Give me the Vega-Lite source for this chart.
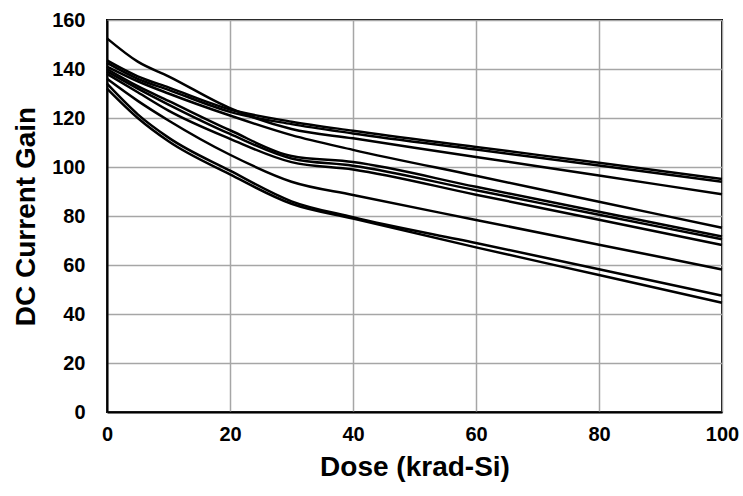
{
  "$schema": "https://vega.github.io/schema/vega-lite/v6.json",
  "width": 615,
  "height": 392,
  "autosize": {"type": "none"},
  "padding": {"left": 107, "top": 20, "right": 21, "bottom": 84},
  "background": "white",
  "config": {
    "view": {"stroke": "black", "strokeWidth": 2},
    "font": "Liberation Sans",
    "axis": {
      "labelFont": "Liberation Sans",
      "titleFont": "Liberation Sans",
      "labelFontWeight": "bold",
      "titleFontWeight": "bold",
      "labelColor": "black",
      "titleColor": "black",
      "labelFontSize": 20,
      "titleFontSize": 28,
      "gridColor": "#a6a6a6",
      "gridWidth": 1.5,
      "gridOpacity": 1,
      "domainColor": "black",
      "domainWidth": 2,
      "ticks": false
    }
  },
  "data": {
    "values": [
      {"s": "A", "dose": 0, "gain": 152.5}, {"s": "A", "dose": 5, "gain": 143}, {"s": "A", "dose": 10, "gain": 137}, {"s": "A", "dose": 20, "gain": 124}, {"s": "A", "dose": 30, "gain": 115.5}, {"s": "A", "dose": 40, "gain": 111.7}, {"s": "A", "dose": 60, "gain": 104.1}, {"s": "A", "dose": 80, "gain": 96.5}, {"s": "A", "dose": 100, "gain": 88.9},
      {"s": "B", "dose": 0, "gain": 143.5}, {"s": "B", "dose": 5, "gain": 137}, {"s": "B", "dose": 10, "gain": 132.5}, {"s": "B", "dose": 20, "gain": 123.5}, {"s": "B", "dose": 30, "gain": 118.5}, {"s": "B", "dose": 40, "gain": 114.8}, {"s": "B", "dose": 60, "gain": 108.2}, {"s": "B", "dose": 80, "gain": 101.7}, {"s": "B", "dose": 100, "gain": 95.1},
      {"s": "C", "dose": 0, "gain": 142.5}, {"s": "C", "dose": 5, "gain": 136}, {"s": "C", "dose": 10, "gain": 131.5}, {"s": "C", "dose": 20, "gain": 122.5}, {"s": "C", "dose": 30, "gain": 117.5}, {"s": "C", "dose": 40, "gain": 113.7}, {"s": "C", "dose": 60, "gain": 107.1}, {"s": "C", "dose": 80, "gain": 100.6}, {"s": "C", "dose": 100, "gain": 94.0},
      {"s": "D", "dose": 0, "gain": 141}, {"s": "D", "dose": 5, "gain": 135}, {"s": "D", "dose": 10, "gain": 130}, {"s": "D", "dose": 20, "gain": 121}, {"s": "D", "dose": 30, "gain": 113}, {"s": "D", "dose": 40, "gain": 107}, {"s": "D", "dose": 60, "gain": 96.4}, {"s": "D", "dose": 80, "gain": 85.8}, {"s": "D", "dose": 100, "gain": 75.2},
      {"s": "E", "dose": 0, "gain": 140}, {"s": "E", "dose": 5, "gain": 133}, {"s": "E", "dose": 10, "gain": 127}, {"s": "E", "dose": 20, "gain": 115}, {"s": "E", "dose": 30, "gain": 104.5}, {"s": "E", "dose": 40, "gain": 102}, {"s": "E", "dose": 60, "gain": 91.9}, {"s": "E", "dose": 80, "gain": 81.7}, {"s": "E", "dose": 100, "gain": 71.6},
      {"s": "F", "dose": 0, "gain": 139}, {"s": "F", "dose": 5, "gain": 132}, {"s": "F", "dose": 10, "gain": 125.5}, {"s": "F", "dose": 20, "gain": 113.5}, {"s": "F", "dose": 30, "gain": 103.5}, {"s": "F", "dose": 40, "gain": 100.5}, {"s": "F", "dose": 60, "gain": 90.5}, {"s": "F", "dose": 80, "gain": 80.5}, {"s": "F", "dose": 100, "gain": 70.5},
      {"s": "H", "dose": 0, "gain": 138}, {"s": "H", "dose": 5, "gain": 130.5}, {"s": "H", "dose": 10, "gain": 123}, {"s": "H", "dose": 20, "gain": 111.5}, {"s": "H", "dose": 30, "gain": 102}, {"s": "H", "dose": 40, "gain": 99}, {"s": "H", "dose": 60, "gain": 88.7}, {"s": "H", "dose": 80, "gain": 78.5}, {"s": "H", "dose": 100, "gain": 68.2},
      {"s": "G", "dose": 0, "gain": 136}, {"s": "G", "dose": 5, "gain": 127}, {"s": "G", "dose": 10, "gain": 119}, {"s": "G", "dose": 20, "gain": 105}, {"s": "G", "dose": 30, "gain": 94}, {"s": "G", "dose": 40, "gain": 88.6}, {"s": "G", "dose": 60, "gain": 78.4}, {"s": "G", "dose": 80, "gain": 68.3}, {"s": "G", "dose": 100, "gain": 58.2},
      {"s": "I", "dose": 0, "gain": 134}, {"s": "I", "dose": 5, "gain": 121.5}, {"s": "I", "dose": 10, "gain": 112}, {"s": "I", "dose": 20, "gain": 98.5}, {"s": "I", "dose": 30, "gain": 86}, {"s": "I", "dose": 40, "gain": 79.5}, {"s": "I", "dose": 60, "gain": 69}, {"s": "I", "dose": 80, "gain": 58.3}, {"s": "I", "dose": 100, "gain": 47.5},
      {"s": "J", "dose": 0, "gain": 132}, {"s": "J", "dose": 5, "gain": 120}, {"s": "J", "dose": 10, "gain": 110.5}, {"s": "J", "dose": 20, "gain": 97}, {"s": "J", "dose": 30, "gain": 85}, {"s": "J", "dose": 40, "gain": 79}, {"s": "J", "dose": 60, "gain": 67.2}, {"s": "J", "dose": 80, "gain": 55.9}, {"s": "J", "dose": 100, "gain": 44.6}
    ]
  },
  "mark": {"type": "line", "interpolate": "monotone", "color": "black", "strokeWidth": 2.5},
  "encoding": {
    "x": {
      "field": "dose", "type": "quantitative",
      "scale": {"domain": [0, 100], "nice": false},
      "axis": {"values": [0, 20, 40, 60, 80, 100], "title": "Dose (krad-Si)", "labelPadding": 12, "titlePadding": 9, "labelFlush": false}
    },
    "y": {
      "field": "gain", "type": "quantitative",
      "scale": {"domain": [0, 160], "nice": false},
      "axis": {"values": [0, 20, 40, 60, 80, 100, 120, 140, 160], "title": "DC Current Gain", "labelPadding": 22, "titlePadding": 11, "labelFlush": false}
    },
    "detail": {"field": "s"}
  }
}
